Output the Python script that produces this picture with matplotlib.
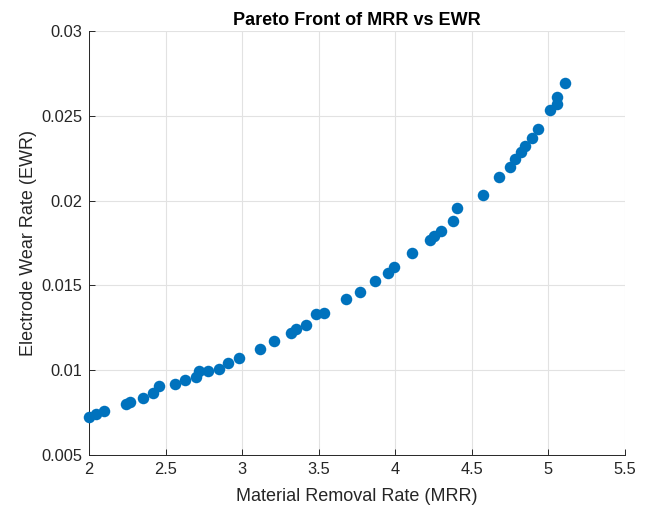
import matplotlib
matplotlib.use("Agg")
import matplotlib.pyplot as plt

mrr = [2.00, 2.046, 2.10, 2.24, 2.27, 2.35, 2.42, 2.46, 2.56, 2.63, 2.70, 2.72, 2.78, 2.85,
       2.91, 2.98, 3.117, 3.21, 3.32, 3.35, 3.42, 3.48, 3.535, 3.68, 3.77, 3.87, 3.95, 3.99,
       4.11, 4.227, 4.25, 4.30, 4.38, 4.40, 4.57, 4.68, 4.75, 4.78, 4.82, 4.85, 4.89, 4.93,
       5.01, 5.056, 5.056, 5.11]
ewr = [0.00724, 0.00742, 0.0076, 0.0080, 0.00812, 0.00836, 0.00866, 0.00907, 0.00919,
       0.00942, 0.0096, 0.00995, 0.00995, 0.0101, 0.0104, 0.0107, 0.01125, 0.01172, 0.0122,
       0.01243, 0.01267, 0.01331, 0.01337, 0.0142, 0.0146, 0.01526, 0.01573, 0.01609, 0.0169,
       0.01768, 0.01791, 0.0182, 0.0188, 0.01956, 0.02033, 0.0214, 0.0220, 0.02245, 0.02287,
       0.0232, 0.0237, 0.02422, 0.02534, 0.0257, 0.0261, 0.02693]
xticks = [2, 2.5, 3, 3.5, 4, 4.5, 5, 5.5]
yticks = [0.005, 0.01, 0.015, 0.02, 0.025, 0.03]

plt.rcParams['font.family'] = ['Liberation Sans', 'DejaVu Sans']
fig = plt.figure(figsize=(6.49, 5.08), dpi=100)
ax = fig.add_axes([89/649, 53/508, 536/649, 424/508])
ax.plot(mrr, ewr, 'o', color='#0072BD', markersize=8.3, markeredgewidth=0, clip_on=False, zorder=3)
ax.set_xlim(2, 5.5)
ax.set_ylim(0.005, 0.03)
ax.set_xticks(xticks)
ax.set_xticklabels([f"{t:g}" for t in xticks])
ax.set_yticks(yticks)
ax.set_yticklabels([f"{t:g}" for t in yticks])
ax.grid(True, color='#e2e2e2', linewidth=0.8)
ax.set_axisbelow(True)
ax.tick_params(direction='in', labelsize=11.8, colors='#262626', length=4, width=0.7, pad=5)
ax.spines['top'].set_visible(False)
ax.spines['right'].set_visible(False)
for s in ('left', 'bottom'):
    ax.spines[s].set_color('#262626')
    ax.spines[s].set_linewidth(0.7)
ax.set_xlabel('Material Removal Rate (MRR)', fontsize=13, color='#262626', labelpad=8)
ax.set_ylabel('Electrode Wear Rate (EWR)', fontsize=13, color='#262626', labelpad=3)
ax.set_title('Pareto Front of MRR vs EWR', fontsize=13, fontweight='bold', color='black', pad=4)
fig.savefig('out.png', dpi=100)
